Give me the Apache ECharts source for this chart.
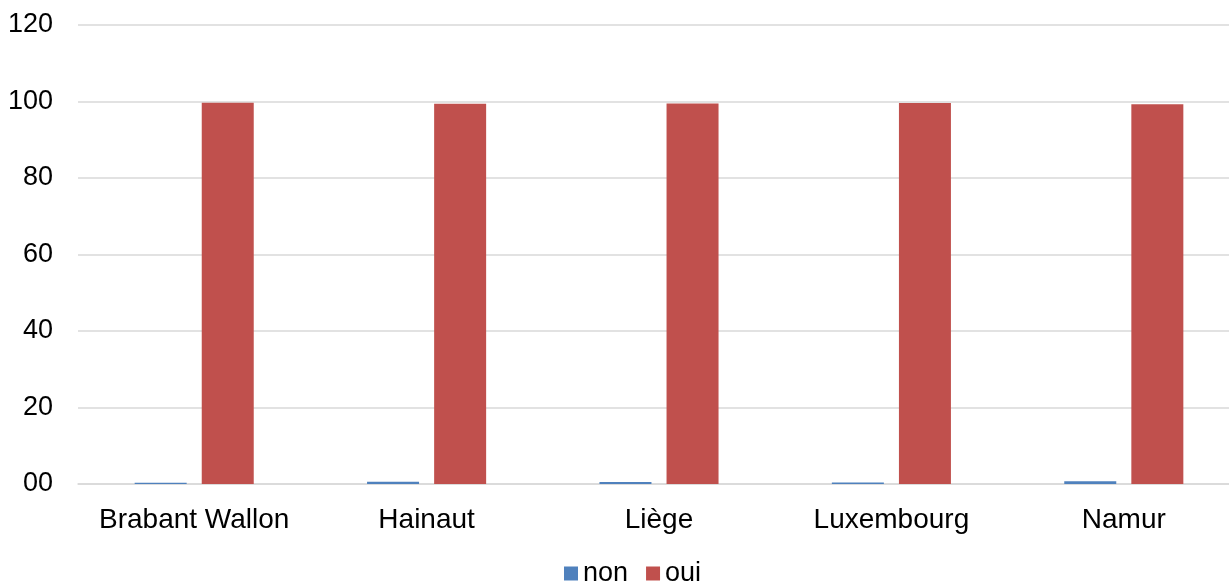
<!DOCTYPE html>
<html>
<head>
<meta charset="utf-8">
<script src="https://cdn.jsdelivr.net/npm/echarts@6/dist/echarts.min.js"></script>
<style>
html,body{margin:0;padding:0;background:#fff;overflow:hidden;}
#wrap{width:1229px;height:583px;overflow:hidden;position:relative;}
#chart{width:1241px;height:583px;position:absolute;left:0;top:0;}
</style>
</head>
<body>
<div id="wrap"><div id="chart"></div></div>
<script>
const categories = ['Brabant Wallon', 'Hainaut', 'Liège', 'Luxembourg', 'Namur'];
const nonValues = [0.3, 0.6, 0.5, 0.4, 0.7];
const ouiValues = [99.7, 99.4, 99.5, 99.6, 99.3];
const seriesNames = ['non', 'oui'];

const chart = echarts.init(document.getElementById('chart'));
const font = '"Liberation Sans", Arial, sans-serif';
chart.setOption({
  animation: false,
  grid: { left: 78, right: 1, top: 25, bottom: 99 },
  legend: {
    top: 560,
    left: 564,
    padding: 0,
    itemWidth: 14,
    itemHeight: 14,
    itemGap: 18,
    icon: 'rect',
    textStyle: { fontFamily: font, fontSize: 27, color: '#000' },
    data: seriesNames
  },
  xAxis: {
    type: 'category',
    data: categories,
    axisTick: { show: false },
    axisLine: { lineStyle: { color: '#D9D9D9', width: 1.5 } },
    axisLabel: { fontFamily: font, fontSize: 28, color: '#000', margin: 22, interval: 0 }
  },
  yAxis: {
    type: 'value',
    min: 0,
    max: 120,
    interval: 20,
    axisLine: { show: false },
    axisTick: { show: false },
    splitLine: { lineStyle: { color: '#D9D9D9', width: 1.5 } },
    axisLabel: {
      fontFamily: font, fontSize: 27, color: '#000', margin: 25,
      formatter: v => v === 0 ? '00' : String(v)
    }
  },
  series: [
    { name: seriesNames[0], type: 'bar', data: nonValues, barWidth: 52, barGap: '29%', itemStyle: { color: '#4F81BD' } },
    { name: seriesNames[1], type: 'bar', data: ouiValues, barWidth: 52, barGap: '29%', itemStyle: { color: '#C0504D' } }
  ]
});
</script>
</body>
</html>
